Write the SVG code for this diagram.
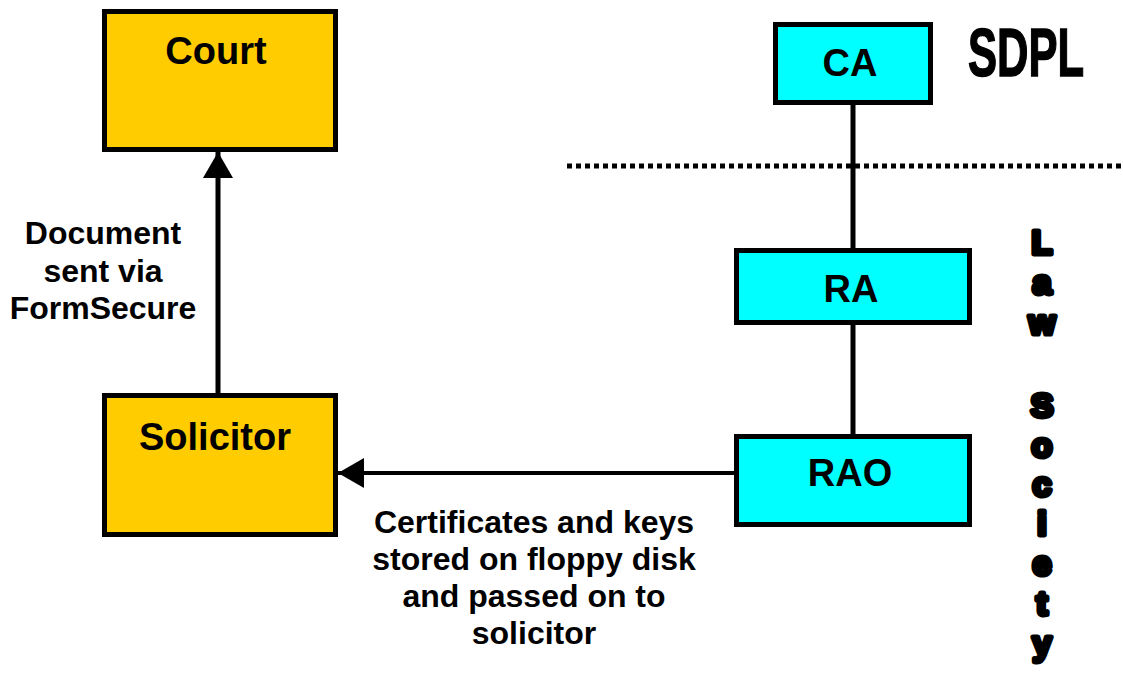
<svg xmlns="http://www.w3.org/2000/svg" width="1123" height="686" viewBox="0 0 1123 686">
<defs>
<style>
.gold{fill:#FFCC00;stroke:#000;stroke-width:5}
.cyan{fill:#00FFFF;stroke:#000;stroke-width:5}
.lbl{font-family:"Liberation Sans",Arial,sans-serif;font-weight:bold;font-size:38px;fill:#000;text-anchor:middle}
.note{font-family:"Liberation Sans",Arial,sans-serif;font-weight:bold;font-size:32px;fill:#000;text-anchor:middle}
.vert{font-family:"Liberation Sans",Arial,sans-serif;font-weight:bold;font-size:34px;fill:#000;stroke:#000;stroke-width:5;stroke-linejoin:round;text-anchor:middle}
.conn{stroke:#000;fill:none}
</style>
<marker id="ah" markerUnits="userSpaceOnUse" viewBox="0 0 26 30" refX="26" refY="15" markerWidth="26" markerHeight="30" orient="auto">
<path d="M0,0 L26,15 L0,30 Z" fill="#000"/>
</marker>
</defs>
<rect width="1123" height="686" fill="#fff"/>
<g id="connectors">
<line class="conn" x1="218" y1="395" x2="218" y2="152" stroke-width="5" marker-end="url(#ah)"/>
<line class="conn" x1="734" y1="473" x2="338" y2="473" stroke-width="4" marker-end="url(#ah)"/>
<line class="conn" x1="853" y1="104" x2="853" y2="250" stroke-width="5"/>
<line class="conn" x1="853" y1="325" x2="853" y2="434" stroke-width="5"/>
</g>
<g id="divider">
<line x1="567" y1="166" x2="1123" y2="166" stroke="#000" stroke-width="5" stroke-dasharray="5,4"/>
</g>
<g id="court">
<rect class="gold" x="104.5" y="11.5" width="231" height="138"/>
<text class="lbl" x="216" y="64">Court</text>
</g>
<g id="solicitor">
<rect class="gold" x="104.5" y="395.5" width="231" height="139"/>
<text class="lbl" x="215" y="450">Solicitor</text>
</g>
<g id="ca">
<rect class="cyan" x="775.5" y="24.5" width="155" height="78"/>
<text class="lbl" x="850" y="76">CA</text>
</g>
<g id="ra">
<rect class="cyan" x="736.5" y="250.5" width="233" height="72"/>
<text class="lbl" x="851" y="302">RA</text>
</g>
<g id="rao">
<rect class="cyan" x="736.5" y="436.5" width="233" height="88"/>
<text class="lbl" x="850" y="486">RAO</text>
</g>
<g id="labels">
<text class="note" x="103" y="244">Document</text>
<text class="note" x="103" y="282">sent via</text>
<text class="note" x="103" y="319">FormSecure</text>
<text class="note" x="534" y="533">Certificates and keys</text>
<text class="note" x="534" y="570">stored on floppy disk</text>
<text class="note" x="534" y="607">and passed on to</text>
<text class="note" x="534" y="644">solicitor</text>
<text transform="translate(968,76) scale(0.64,1)" x="0" y="0" font-family="'Liberation Sans',Arial,sans-serif" font-weight="bold" font-size="68" stroke="#000" stroke-width="1.5">SDPL</text>
</g>
<g id="law-society">
<text class="vert"><tspan x="1042" y="254">L</tspan><tspan x="1042" y="294">a</tspan><tspan x="1042" y="334">w</tspan><tspan x="1042" y="417">S</tspan><tspan x="1042" y="457">o</tspan><tspan x="1042" y="496">c</tspan><tspan x="1042" y="535">i</tspan><tspan x="1042" y="575">e</tspan><tspan x="1042" y="615">t</tspan><tspan x="1042" y="655">y</tspan></text>
</g>
</svg>
